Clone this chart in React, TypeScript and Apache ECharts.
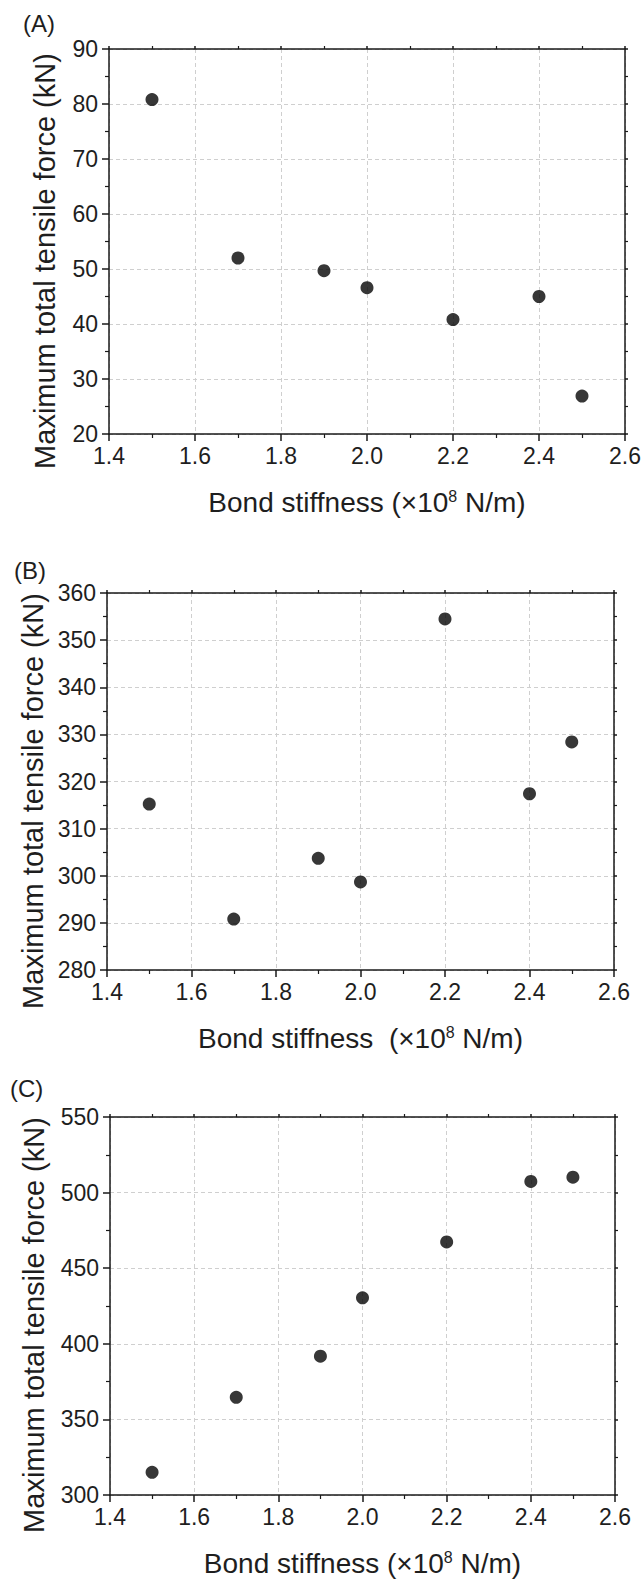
import React, { useEffect, useRef } from "react";
import * as echarts from "echarts";

// ---- data ----
const stiffness = [1.5, 1.7, 1.9, 2.0, 2.2, 2.4, 2.5];
const forceA = [80.8, 52.0, 49.7, 46.6, 40.8, 45.0, 26.9];
const forceB = [315.2, 290.8, 303.7, 298.7, 354.5, 317.4, 328.4];
const forceC = [315.0, 364.6, 391.8, 430.4, 467.4, 507.4, 510.2];
const panelLabels = ["(A)", "(B)", "(C)"];
const xTitles = [
  "Bond stiffness (×10{sup|8} N/m)",
  "Bond stiffness  (×10{sup|8} N/m)",
  "Bond stiffness (×10{sup|8} N/m)",
];
const yTitle = "Maximum total tensile force (kN)";
const xMin = 1.4;
const xMax = 2.6;
const xStep = 0.2;
const yMins = [20, 280, 300];
const yMaxs = [90, 360, 550];
const ySteps = [10, 10, 50];

const forces = [forceA, forceB, forceC];

const FONT = "'Liberation Sans', Arial, Helvetica, sans-serif";
const AXIS_COLOR = "#1a1a1a";
const TEXT_COLOR = "#1e1e1e";

const grids = [
  { left: 109, top: 49, width: 516, height: 385 },
  { left: 107, top: 593, width: 507, height: 377 },
  { left: 110, top: 1117, width: 505, height: 378 },
];
const panelLabelPos = [
  { x: 23, y: 24 },
  { x: 14, y: 571 },
  { x: 10, y: 1089 },
];
const yTitlePos = [
  { x: 45, y: 261 },
  { x: 33, y: 801 },
  { x: 34, y: 1325 },
];

export default function App() {
  const ref = useRef<HTMLDivElement>(null);

  useEffect(() => {
    if (!ref.current) return;
    const chart = echarts.init(ref.current, undefined, { renderer: "svg" });

    const lineStyle = { color: AXIS_COLOR, width: 1.5 };
    const xAxes: any[] = [];
    const yAxes: any[] = [];
    const series: any[] = [];
    const graphics: any[] = [];

    grids.forEach((g, i) => {
      xAxes.push({
        type: "value",
        gridIndex: i,
        position: "bottom",
        min: xMin,
        max: xMax,
        interval: xStep,
        axisLine: { show: true, onZero: false, lineStyle },
        axisTick: { show: true, inside: false, length: 7, lineStyle },
        minorTick: { show: true, splitNumber: 2, length: 4, lineStyle: { color: AXIS_COLOR, width: 1.2 } },
        axisLabel: {
          show: true,
          margin: 10,
          fontSize: 23,
          color: TEXT_COLOR,
          fontFamily: FONT,
          formatter: (v: number) => v.toFixed(1),
        },
        splitLine: { show: true, lineStyle: { type: [4, 3], color: "#cfcfcf", width: 1 } },
        name: xTitles[i],
        nameLocation: "middle",
        nameGap: 54,
        nameTextStyle: {
          fontSize: 28,
          color: TEXT_COLOR,
          fontFamily: FONT,
          rich: {
            sup: { fontSize: 16, fontFamily: FONT, color: TEXT_COLOR, verticalAlign: "top", lineHeight: 16 },
          },
        },
      });
      xAxes.push({
        type: "value",
        gridIndex: i,
        position: "top",
        min: xMin,
        max: xMax,
        interval: xStep,
        axisLine: { show: true, onZero: false, lineStyle },
        axisTick: { show: true, inside: false, length: 3, lineStyle },
        minorTick: { show: true, splitNumber: 2, length: 3, lineStyle: { color: AXIS_COLOR, width: 1.2 } },
        axisLabel: { show: false },
        splitLine: { show: false },
      });
      yAxes.push({
        type: "value",
        gridIndex: i,
        position: "left",
        min: yMins[i],
        max: yMaxs[i],
        interval: ySteps[i],
        axisLine: { show: true, onZero: false, lineStyle },
        axisTick: { show: true, inside: false, length: 7, lineStyle },
        minorTick: { show: true, splitNumber: 2, length: 4, lineStyle: { color: AXIS_COLOR, width: 1.2 } },
        axisLabel: { show: true, margin: 11, fontSize: 23, color: TEXT_COLOR, fontFamily: FONT },
        splitLine: { show: true, lineStyle: { type: [4, 3], color: "#cfcfcf", width: 1 } },
      });
      yAxes.push({
        type: "value",
        gridIndex: i,
        position: "right",
        min: yMins[i],
        max: yMaxs[i],
        interval: ySteps[i],
        axisLine: { show: true, onZero: false, lineStyle },
        axisTick: { show: true, inside: false, length: 3, lineStyle },
        minorTick: { show: true, splitNumber: 2, length: 3, lineStyle: { color: AXIS_COLOR, width: 1.2 } },
        axisLabel: { show: false },
        splitLine: { show: false },
      });
      series.push({
        type: "scatter",
        xAxisIndex: 2 * i,
        yAxisIndex: 2 * i,
        data: stiffness.map((x, j) => [x, forces[i][j]]),
        symbol: "circle",
        symbolSize: 13,
        itemStyle: { color: "#050505" },
        z: 5,
      });
      graphics.push({
        type: "text",
        left: panelLabelPos[i].x,
        top: panelLabelPos[i].y - 13,
        style: { text: panelLabels[i], fontSize: 24, fontFamily: FONT, fill: TEXT_COLOR },
      });
      graphics.push({
        type: "text",
        x: yTitlePos[i].x,
        y: yTitlePos[i].y,
        rotation: Math.PI / 2,
        style: {
          text: yTitle,
          fontSize: 29,
          fontFamily: FONT,
          fill: TEXT_COLOR,
          align: "center",
          verticalAlign: "middle",
        },
      });
    });

    chart.setOption({
      animation: false,
      backgroundColor: "#ffffff",
      grid: grids.map((g) => ({ ...g, containLabel: false, outerBoundsMode: "none" })),
      xAxis: xAxes,
      yAxis: yAxes,
      series,
      graphic: graphics,
    });

    return () => chart.dispose();
  }, []);

  return (
    <div
      ref={ref}
      style={{ position: "absolute", left: 0, top: 0, width: 643, height: 1580, background: "#fff" }}
    />
  );
}
